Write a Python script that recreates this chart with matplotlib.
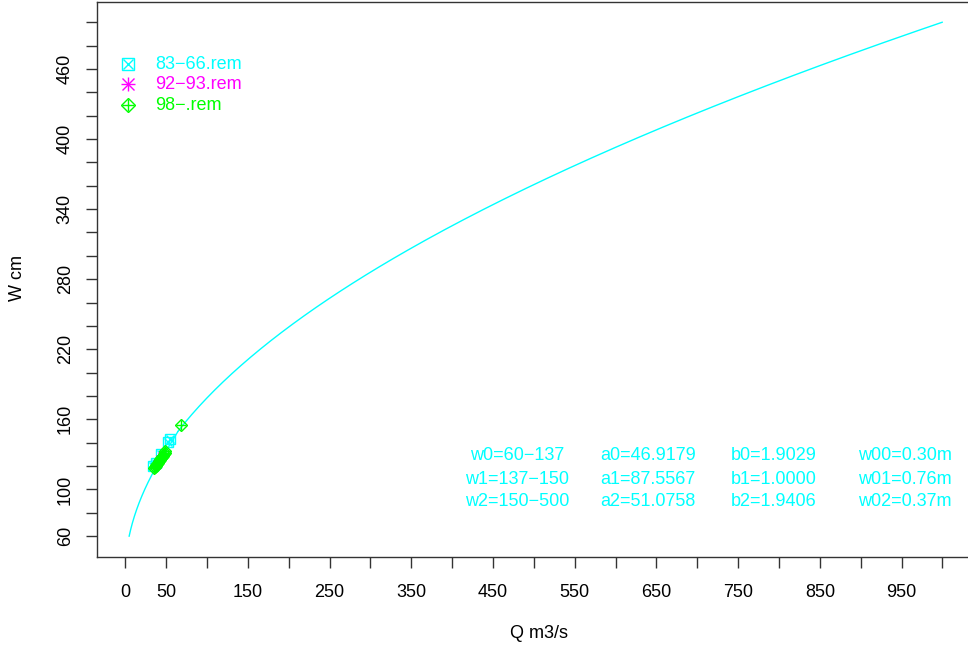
import numpy as np
import matplotlib
matplotlib.use("Agg")
import matplotlib.pyplot as plt

# ---- data ----
# rating-curve segments shown on the chart (W in cm, Q in m3/s)
seg_w_lo = [60, 137, 150]
seg_w_hi = [137, 150, 500]
seg_a = [46.9179, 87.5567, 51.0758]
seg_b = [1.9029, 1.0000, 1.9406]
seg_w0 = [0.30, 0.76, 0.37]

q_8366 = [34, 37, 44, 52, 55]
w_8366 = [120, 123, 130, 141, 143]
q_9293 = [39, 42, 45]
w_9293 = [122, 126, 129]
q_98 = [35, 36, 37, 38, 39, 40, 41, 42, 43, 44, 45, 46, 47, 48, 49, 68]
w_98 = [118, 119, 120, 121, 122, 123, 124, 125, 126, 127, 128, 129, 130, 131, 133, 155]

legend_labels = ["83\u221266.rem", "92\u221293.rem", "98\u2212.rem"]

x_ticks = list(range(0, 1001, 50))
x_ticklabels = ["0", "50"] + [str(v) if (v - 50) % 100 == 0 else "" for v in range(100, 1001, 50)]
y_ticks = list(range(60, 501, 20))
y_labeled = [60, 100, 160, 220, 280, 340, 400, 460]

CYAN = "#00FFFF"
MAG = "#FF00FF"
GRN = "#00FF00"
AX = "#333333"
FONT = "Liberation Sans"
FS = 13

W_curve = []
Q_curve = []
for lo, hi, a, b, w0 in zip(seg_w_lo, seg_w_hi, seg_a, seg_b, seg_w0):
    w = np.linspace(lo, hi, 200)
    W_curve.append(w)
    Q_curve.append(a * (w / 100.0 - w0) ** b)
W_curve = np.concatenate(W_curve)
Q_curve = np.concatenate(Q_curve)

fig = plt.figure(figsize=(9.68, 6.46), dpi=100)
L, R_, T, B = 97, 975, 1.7, 556.7
ax = fig.add_axes([L / 968, (646 - B) / 646, (R_ - L) / 968, (B - T) / 646])

ax.plot(Q_curve, W_curve, color=CYAN, lw=1.0, zorder=2)

ms = 7
ax.plot(q_8366, w_8366, ls="none", marker="s", ms=ms, mfc="none", mec=CYAN, mew=1.0, zorder=3)
ax.plot(q_8366, w_8366, ls="none", marker="x", ms=ms * 0.9, mec=CYAN, mew=1.0, zorder=3)
ax.plot(q_9293, w_9293, ls="none", marker="+", ms=ms, mec=MAG, mew=1.0, zorder=3)
ax.plot(q_9293, w_9293, ls="none", marker="x", ms=ms * 0.75, mec=MAG, mew=1.0, zorder=3)
ax.plot(q_98, w_98, ls="none", marker="D", ms=ms * 0.85, mfc="none", mec=GRN, mew=1.0, zorder=4)
ax.plot(q_98, w_98, ls="none", marker="+", ms=ms * 1.1, mec=GRN, mew=1.0, zorder=4)

ax.set_xlim(-34.6, 1039.8)
ax.set_ylim(42.4, 517.6)

for s in ax.spines.values():
    s.set_color(AX)
    s.set_linewidth(1.0)

ax.set_xticks(x_ticks)
ax.set_xticklabels(x_ticklabels, fontsize=FS, family=FONT)
ax.set_yticks(y_ticks)
ax.set_yticklabels([str(v) if v in y_labeled else "" for v in y_ticks],
                   fontsize=FS, family=FONT, rotation=90, va="center")
ax.tick_params(axis="x", length=8, width=1.0, color=AX, pad=12)
ax.tick_params(axis="y", length=7.7, width=1.0, color=AX, pad=9)

fig.text(18 / 968, (646 - 278) / 646, "W cm", rotation=90, ha="center", va="center",
         fontsize=FS, family=FONT)
fig.text(539 / 968, (646 - 634) / 646, "Q m3/s", ha="center", va="center",
         fontsize=FS, family=FONT)

# legend
def fx(px):
    return (px - L) / (R_ - L)

def fy(py):
    return (B - py) / (B - T)

rows = [64.3, 84.3, 105]
lms = 8.5
mk = [[("s", 1.0, "none"), ("x", 0.9, None)],
      [("+", 1.25, None), ("x", 0.95, None)],
      [("D", 0.85, "none"), ("+", 1.1, None)]]
cols = [CYAN, MAG, GRN]
for lab, r, m, c in zip(legend_labels, rows, mk, cols):
    for mstyle, sc, fc in m:
        kw = dict(mfc=fc) if fc else {}
        ax.plot([fx(128)], [fy(r)], transform=ax.transAxes, ls="none", marker=mstyle,
                ms=lms * sc, mec=c, mew=1.0, clip_on=False, **kw)
    ax.text(fx(155), fy(r), lab, transform=ax.transAxes, ha="left", va="center",
            color=c, fontsize=FS, family=FONT)

# coefficient table
coef_rows = [
    ["w0=60\u2212137", "a0=46.9179", "b0=1.9029", "w00=0.30m"],
    ["w1=137\u2212150", "a1=87.5567", "b1=1.0000", "w01=0.76m"],
    ["w2=150\u2212500", "a2=51.0758", "b2=1.9406", "w02=0.37m"],
]
col_x = [517, 648, 774, 905]
row_y = [456, 479, 501]
for ry, row in zip(row_y, coef_rows):
    for cx, t in zip(col_x, row):
        ax.text(fx(cx), fy(ry), t, transform=ax.transAxes, ha="center", va="center",
                color=CYAN, fontsize=FS, family=FONT)

fig.savefig("out.png", dpi=100)
